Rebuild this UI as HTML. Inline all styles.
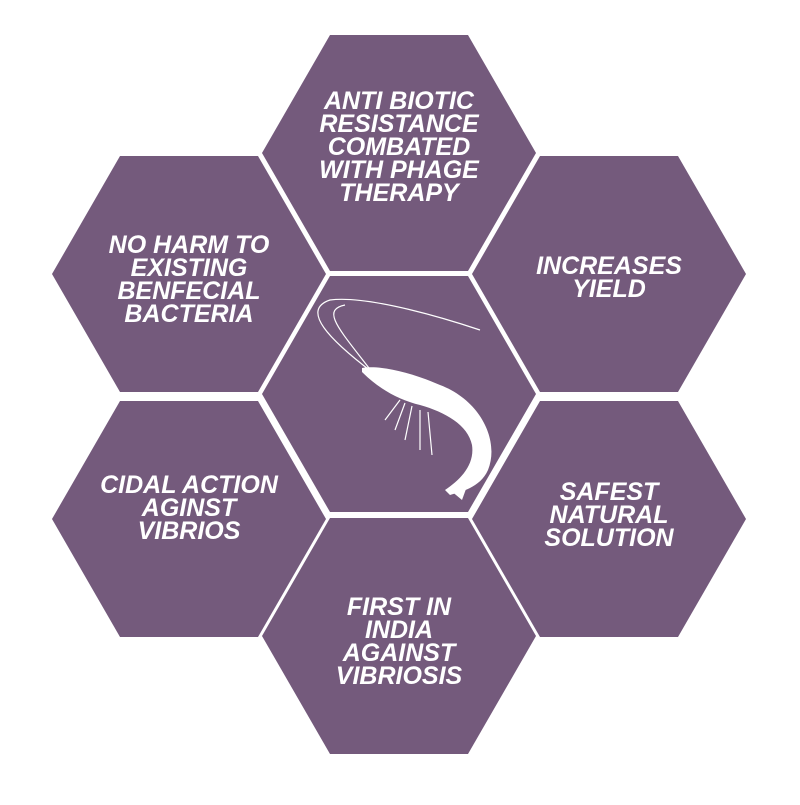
<!DOCTYPE html>
<html><head><style>
body{margin:0;background:#fff}
svg text{font-family:"Liberation Sans",sans-serif;font-weight:bold;font-style:italic;fill:#fff;font-size:25px;text-anchor:middle}
</style></head><body>
<svg width="800" height="800" viewBox="0 0 800 800">
<defs><polygon id="h" points="-69,-118 69,-118 137,0 69,118 -69,118 -137,0"/></defs>
<g fill="#745a7c">
<use href="#h" x="399" y="153"/>
<use href="#h" x="189" y="274"/>
<use href="#h" x="609" y="274"/>
<use href="#h" x="399" y="394"/>
<use href="#h" x="189" y="519"/>
<use href="#h" x="609" y="519"/>
<use href="#h" x="399" y="636"/>
</g>
<text x="399" y="109">ANTI BIOTIC</text>
<text x="399" y="132">RESISTANCE</text>
<text x="399" y="155">COMBATED</text>
<text x="399" y="178">WITH PHAGE</text>
<text x="399" y="201">THERAPY</text>
<text x="189" y="253">NO HARM TO</text>
<text x="189" y="276">EXISTING</text>
<text x="189" y="299">BENFECIAL</text>
<text x="189" y="322">BACTERIA</text>
<text x="609" y="274">INCREASES</text>
<text x="609" y="297">YIELD</text>
<text x="189" y="493">CIDAL ACTION</text>
<text x="189" y="516">AGINST</text>
<text x="189" y="539">VIBRIOS</text>
<text x="609" y="500">SAFEST</text>
<text x="609" y="523">NATURAL</text>
<text x="609" y="546">SOLUTION</text>
<text x="399" y="615">FIRST IN</text>
<text x="399" y="638">INDIA</text>
<text x="399" y="661">AGAINST</text>
<text x="399" y="684">VIBRIOSIS</text>
<g stroke="#fff" fill="none" stroke-width="1.2">
<path d="M372 372 C330 340 300 310 330 300 C370 295 450 320 480 330"/>
<path d="M372 372 C340 330 320 310 345 305"/>
<path d="M400 400 L385 420 M405 403 L395 430 M412 406 L405 440 M420 410 L420 450 M428 412 L432 455"/>
</g>
<path fill="#fff" d="M362 368 C380 365 410 372 440 385 C480 400 500 440 488 470 C480 488 460 492 450 495 L445 490 C460 480 475 465 472 445 C468 425 445 412 420 405 C400 400 380 390 362 372 Z"/>
<path fill="#fff" d="M450 490 L470 478 L462 500 Z"/>
</svg>
</body></html>
